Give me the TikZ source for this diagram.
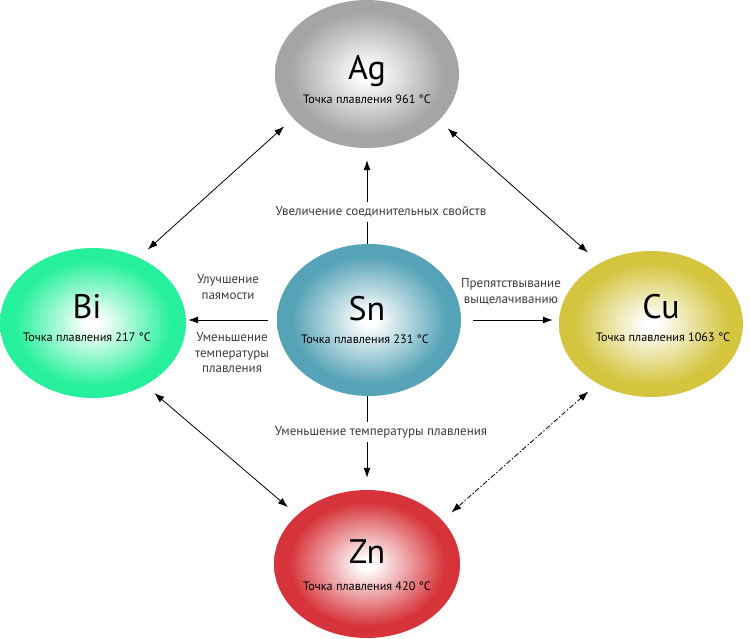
\documentclass[tikz,border=0pt]{standalone}
\usepackage{fontspec}
\setmainfont{PT Sans}
\usetikzlibrary{arrows.meta,positioning,shapes.geometric}

\definecolor{agcol}{RGB}{165,165,165}
\definecolor{sncol}{RGB}{86,163,183}
\definecolor{bicol}{RGB}{38,240,155}
\definecolor{cucol}{RGB}{212,196,62}
\definecolor{zncol}{RGB}{214,52,58}
\definecolor{labgray}{RGB}{60,60,60}

\pgfdeclareradialshading{agshade}{\pgfpoint{0bp}{0bp}}{color(0bp)=(white);color(2bp)=(white);color(21bp)=(agcol);color(25bp)=(agcol);color(50bp)=(agcol)}
\pgfdeclareradialshading{snshade}{\pgfpoint{0bp}{0bp}}{color(0bp)=(white);color(2bp)=(white);color(21bp)=(sncol);color(25bp)=(sncol);color(50bp)=(sncol)}
\pgfdeclareradialshading{bishade}{\pgfpoint{0bp}{0bp}}{color(0bp)=(white);color(2bp)=(white);color(21bp)=(bicol);color(25bp)=(bicol);color(50bp)=(bicol)}
\pgfdeclareradialshading{cushade}{\pgfpoint{0bp}{0bp}}{color(0bp)=(white);color(2bp)=(white);color(21bp)=(cucol);color(25bp)=(cucol);color(50bp)=(cucol)}
\pgfdeclareradialshading{znshade}{\pgfpoint{0bp}{0bp}}{color(0bp)=(white);color(2bp)=(white);color(21bp)=(zncol);color(25bp)=(zncol);color(50bp)=(zncol)}

\begin{document}
\begin{tikzpicture}[
    x=1pt, y=-1pt,
    metal/.style={ellipse, inner sep=0pt, shade, minimum width=184pt, minimum height=148pt},
    sym/.style={anchor=base, inner sep=0pt, font=\fontsize{34}{34}\selectfont},
    temp/.style={anchor=base, inner sep=0pt, font=\fontsize{12.2}{14}\selectfont},
    lab/.style={align=center, text=labgray, inner sep=4pt, font=\fontsize{13}{15.5}\selectfont},
    link/.style={{Latex[length=10pt,width=7pt]}-{Latex[length=10pt,width=7pt]}, line width=0.8pt, shorten <=12pt, shorten >=12pt},
    oneway/.style={-{Latex[length=10pt,width=7pt]}, line width=0.8pt}
  ]
    \useasboundingbox (0,0) rectangle (750,639);

    % ellipses
    \node[metal, shading=agshade] (ag) at (367,74) {};
    \node[metal, shading=snshade, minimum height=152pt] (sn) at (369,320) {};
    \node[metal, shading=bishade, minimum width=186pt, minimum height=150pt] (bi) at (93,323) {};
    \node[metal, shading=cushade, minimum height=146pt] (cu) at (651,324) {};
    \node[metal, shading=znshade, minimum width=186pt] (zn) at (367,564) {};

    % symbols and melting points
    \node[sym] (ag-s) at (367,80) {Ag};
    \node[temp] (ag-t) at (367,104) {Точка плавления 961 °C};
    \node[sym] (sn-s) at (367,320) {Sn};
    \node[temp] (sn-t) at (365,343) {Точка плавления 231 °C};
    \node[sym] (bi-s) at (87,318) {Bi};
    \node[temp] (bi-t) at (87,341.5) {Точка плавления 217 °C};
    \node[sym] (cu-s) at (661,318) {Cu};
    \node[temp] (cu-t) at (663,341.5) {Точка плавления 1063 °C};
    \node[sym] (zn-s) at (367,563) {Zn};
    \node[temp] (zn-t) at (367,590.5) {Точка плавления 420 °C};

    % labels
    \node[lab] (uplab) at (381,212) {Увеличение соединительных свойств};
    \node[lab] (downlab) at (381,432) {Уменьшение температуры плавления};
    \node[lab] (leftup) at (228,287) {Улучшение\\паямости};
    \node[lab] (leftdown) at (232,353) {Уменьшение\\температуры\\плавления};
    \node[lab] (rightup) at (511,292) {Препятствывание\\выщелачиванию};

    % arrows from Sn
    \draw[line width=0.8pt] (sn.north -| ag.south) -- (uplab.south -| ag.south);
    \draw[oneway, shorten >=12pt] (uplab.north -| ag.south) -- (ag.south);
    \draw[line width=0.8pt] (sn.south -| zn.north) -- (downlab.north -| zn.north);
    \draw[oneway, shorten >=12pt] (downlab.south -| zn.north) -- (zn.north);
    \draw[oneway, shorten <=9pt, shorten >=2pt] (sn.west) -- (sn.west -| bi.east);
    \draw[oneway, shorten <=12pt, shorten >=6pt] (sn.east) -- (sn.east -| cu.west);

    % links between the others
    \draw[link] (ag.211) -- (bi.55);
    \draw[link, shorten >=16pt] (ag.327) -- (cu.130);
    \draw[link] (bi.310) -- (zn.145);
    \draw[link, dash pattern=on 5pt off 2pt on 1.5pt off 2pt] (cu.228) -- (zn.30);
  \end{tikzpicture}
\end{document}
